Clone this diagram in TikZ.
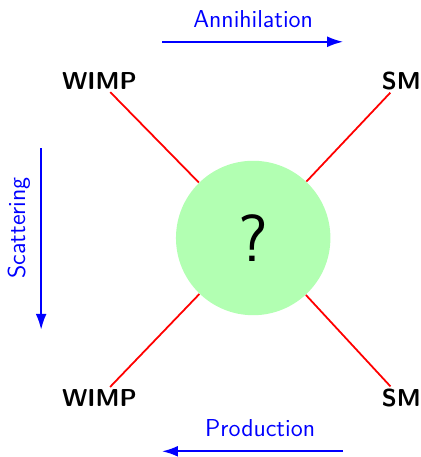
\documentclass[tikz,border=0pt]{standalone}
\usetikzlibrary{positioning, arrows.meta}

\begin{document}
\begin{tikzpicture}[
    font=\sffamily\fontsize{11}{13}\selectfont,
    particle/.style={font=\sffamily\bfseries\fontsize{11}{13}\selectfont, inner sep=1pt},
    blob/.style={circle, fill=green!30, minimum size=2.44cm, inner sep=0pt,
                 font=\sffamily\fontsize{30}{36}\selectfont},
    leg/.style={red, thick},
    flow/.style={-{Latex[length=2.5mm, width=1.7mm]}, blue, thick},
    process/.style={text=blue, inner sep=1pt}
  ]
  \useasboundingbox (-4.0,-3.46) rectangle (2.64,3.76);

  % unknown interaction in the middle
  \node[blob] (blob) at (0,0) {?};

  \node[particle] (inA)  at (-2.43, 2.48) {WIMP};
  \node[particle] (outA) at (2.34, 2.48) {SM};
  \node[particle] (inB)  at (-2.43, -2.53) {WIMP};
  \node[particle] (outB) at (2.34, -2.53) {SM};
  \foreach \p in {inA, outA, inB, outB} {
    \draw[leg] (\p) -- (blob);
  }

  % the three ways to read the diagram
  \coordinate (annL) at (-1.44, 3.10);
  \coordinate (annR) at (1.42, 3.10);
  \coordinate (prodL) at (-1.44, -3.37);
  \coordinate (prodR) at (1.42, -3.37);
  \coordinate (scatT) at (-3.35, 1.42);
  \coordinate (scatB) at (-3.35, -1.45);

  \draw[flow] (annL) -- (annR);
  \draw[flow] (prodR) -- (prodL);
  \draw[flow] (scatT) -- (scatB);

  \node[process] (ann) at (0, 3.46) {Annihilation};
  \node[process] (prod) at (0.11, -3.0) {Production};
  \node[process, rotate=90] (scat) at (-3.70, 0.16) {Scattering};
\end{tikzpicture}
\end{document}
